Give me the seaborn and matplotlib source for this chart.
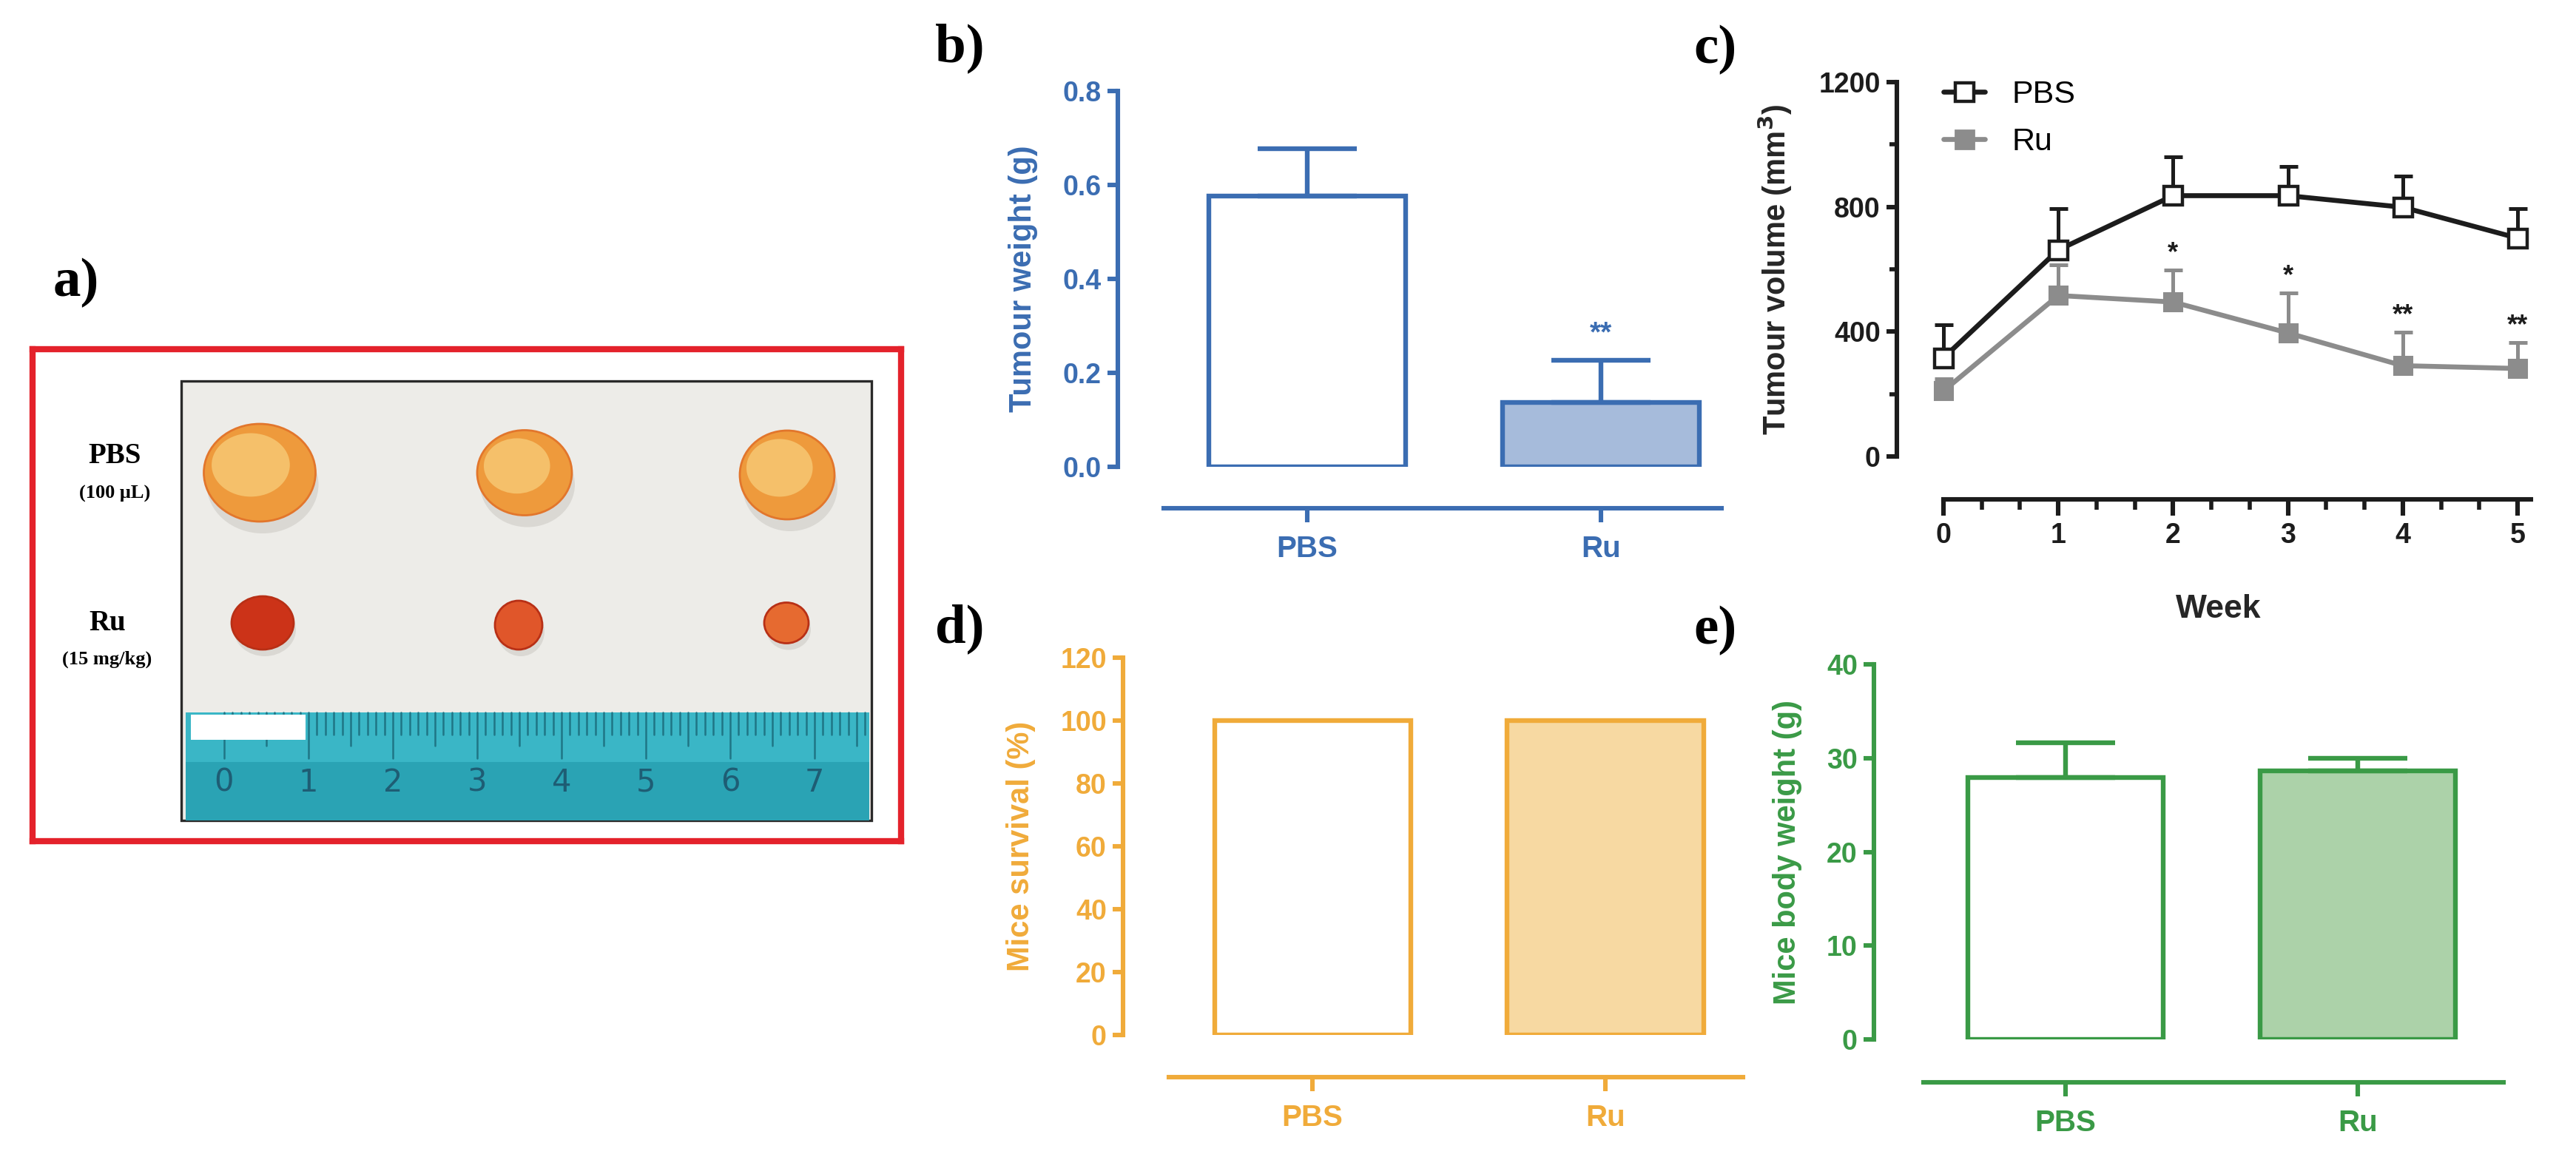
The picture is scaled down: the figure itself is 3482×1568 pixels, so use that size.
import numpy as np
import pandas as pd
import seaborn as sns
import matplotlib.pyplot as plt
from matplotlib.patches import Rectangle, Ellipse
from matplotlib.lines import Line2D

# ---- data ----
groups = ['PBS', 'Ru']

tumour_weight = [0.576, 0.137]
tumour_weight_err = [0.101, 0.090]
weight_sig = ['', '**']

weeks = [0, 1, 2, 3, 4, 5]
pbs_volume = [316, 662, 836, 836, 799, 700]
pbs_volume_err = [105, 133, 124, 93, 99, 95]
ru_volume = [210, 516, 495, 396, 291, 282]
ru_volume_err = [40, 99, 103, 128, 108, 83]
volume_sig = ['', '', '*', '*', '**', '**']

survival = [100, 100]

body_weight = [27.9, 28.6]
body_weight_err = [3.7, 1.4]

W, H = 3482, 1568
DPI = 200

sns.set_style('ticks')
plt.rcParams['font.family'] = ['Liberation Sans', 'DejaVu Sans']
plt.rcParams['font.weight'] = 'bold'
plt.rcParams['text.color'] = 'black'

fig = plt.figure(figsize=(W / DPI, H / DPI), dpi=DPI)


def px_axes(left, top, right, bottom):
    return fig.add_axes([left / W, 1 - bottom / H, (right - left) / W, (bottom - top) / H])


def style_axes(ax, color, ybounds, xbounds, offset):
    for s in ['top', 'right']:
        ax.spines[s].set_visible(False)
    for s in ['left', 'bottom']:
        ax.spines[s].set_color(color)
        ax.spines[s].set_linewidth(2.2)
    ax.spines['left'].set_bounds(*ybounds)
    ax.spines['bottom'].set_bounds(*xbounds)
    ax.spines['bottom'].set_position(('outward', offset))
    ax.tick_params(colors=color, width=2.2, length=5, labelsize=13.5, pad=3)
    ax.tick_params(which='minor', colors=color, width=2.0, length=3.5)
    ax.set_facecolor('none')


def bar_panel(ax, values, errs, color, fill, ymax, ystep, ylabel, xlim, xbounds, offset, sig=None):
    df = pd.DataFrame({'group': groups, 'value': values})
    sns.barplot(data=df, x='group', y='value', hue='group', palette=['white', fill],
                saturation=1, width=0.67, edgecolor=color, linewidth=2.3, legend=False, ax=ax,
                errorbar=None)
    if errs is not None:
        ax.errorbar(range(len(groups)), values, yerr=[np.zeros(len(errs)), errs], fmt='none',
                    ecolor=color, elinewidth=2.3, capsize=24, capthick=2.3, zorder=1)
    if sig is not None:
        for i, s in enumerate(sig):
            if s:
                ax.text(i, values[i] + errs[i] + ymax * 0.035, s, color=color, ha='center',
                        va='bottom', fontsize=14, fontweight='bold')
    ax.set_xlim(*xlim)
    ax.set_ylim(0, ymax)
    ax.set_yticks(np.arange(0, ymax + ystep / 2, ystep))
    ax.set_xlabel('')
    ax.set_ylabel(ylabel, color=color, fontsize=15, fontweight='bold', labelpad=12)
    style_axes(ax, color, (0, ymax), xbounds, offset)
    ax.tick_params(axis='x', length=7, labelsize=14.5, pad=6)


# ---- b) tumour weight ----
ax_b = px_axes(1511, 123, 2343, 631)
bar_panel(ax_b, tumour_weight, tumour_weight_err, '#3b6db2', '#a6bbdb', 0.8, 0.2,
          'Tumour weight (g)', (-0.645, 1.45), (-0.49, 1.41), 20.2, sig=weight_sig)
ax_b.yaxis.set_major_formatter(plt.FormatStrFormatter('%.1f'))

# ---- d) mice survival ----
ax_d = px_axes(1518, 889, 2360, 1399)
bar_panel(ax_d, survival, None, '#f0ab3a', '#f7d9a2', 120, 20,
          'Mice survival (%)', (-0.647, 1.48), (-0.49, 1.47), 20.5)

# ---- e) mice body weight ----
ax_e = px_axes(2533, 898, 3404, 1405)
bar_panel(ax_e, body_weight, body_weight_err, '#3a9a46', '#acd2a9', 40, 10,
          'Mice body weight (g)', (-0.656, 1.55), (-0.486, 1.5), 20.9)

# ---- c) tumour volume ----
ax_c = px_axes(2564, 111, 3434, 617)
pbs_col, ru_col = '#1c1c1c', '#8c8c8c'
ax_c.errorbar(weeks, pbs_volume, yerr=[np.zeros(len(weeks)), pbs_volume_err], fmt='none',
              ecolor=pbs_col, elinewidth=1.8, capsize=4.5, capthick=1.8, zorder=2)
ax_c.errorbar(weeks, ru_volume, yerr=[np.zeros(len(weeks)), ru_volume_err], fmt='none',
              ecolor=ru_col, elinewidth=1.8, capsize=4.5, capthick=1.8, zorder=2)
sns.lineplot(x=weeks, y=ru_volume, color=ru_col, linewidth=2.4, marker='s', markersize=9,
             markerfacecolor=ru_col, markeredgecolor=ru_col, ax=ax_c, zorder=3)
sns.lineplot(x=weeks, y=pbs_volume, color=pbs_col, linewidth=2.4, marker='s', markersize=9,
             markerfacecolor='white', markeredgecolor=pbs_col, markeredgewidth=1.6, ax=ax_c, zorder=4)
for w, v, e, s in zip(weeks, ru_volume, ru_volume_err, volume_sig):
    if s:
        ax_c.text(w, v + e + 12, s, ha='center', va='bottom', fontsize=13, fontweight='bold',
                  color=pbs_col)
ax_c.set_xlim(-0.406, 5.2)
ax_c.set_ylim(0, 1200)
ax_c.set_yticks([0, 400, 800, 1200])
ax_c.set_yticks([200, 600, 1000], minor=True)
ax_c.set_xticks(weeks)
ax_c.set_xticks(np.arange(0, 5.1, 1 / 3), minor=True)
ax_c.set_xlabel('Week', fontsize=16, fontweight='bold', labelpad=22)
ax_c.set_ylabel('Tumour volume (mm$^\\mathbf{3}$)', fontsize=15, fontweight='bold', labelpad=12)
style_axes(ax_c, pbs_col, (0, 1200), (0, 5.115), 20.9)
ax_c.tick_params(axis='x', which='major', length=8)
ax_c.tick_params(axis='x', which='minor', length=5)
handles = [
    Line2D([], [], color=pbs_col, lw=2.4, marker='s', ms=9, mfc='white', mec=pbs_col, mew=1.6),
    Line2D([], [], color=ru_col, lw=2.4, marker='s', ms=9, mfc=ru_col, mec=ru_col),
]
leg = ax_c.legend(handles, groups, loc='upper left', bbox_to_anchor=(0.072, 1.005), frameon=False,
                  handlelength=1.3, handletextpad=0.85, labelspacing=0.55, borderaxespad=0,
                  borderpad=0,
                  prop={'family': 'Liberation Sans', 'weight': 'normal', 'size': 15.5})

# ---- a) photograph (schematic) ----
ax_a = px_axes(44, 472, 1218, 1137)
ax_a.set_xlim(44, 1218)
ax_a.set_ylim(1137, 472)
ax_a.set_xticks([])
ax_a.set_yticks([])
for s in ax_a.spines.values():
    s.set_color('#e4222b')
    s.set_linewidth(3.0)
ax_a.add_patch(Rectangle((245, 515), 933, 594, facecolor='#edece8', edgecolor='#2a2a2a', lw=1.2))
pbs_tumours = [(351, 639, 151, 132), (709, 639, 128, 115), (1064, 642, 128, 120)]
ru_tumours = [(355, 842, 84, 72, '#cc3318'), (701, 845, 64, 66, '#e0562a'), (1063, 842, 60, 55, '#e66a30')]
for x, y, w, h in pbs_tumours:
    ax_a.add_patch(Ellipse((x + 4, y + 16), w, h, facecolor='#dad8d3', edgecolor='none'))
    ax_a.add_patch(Ellipse((x, y), w, h, facecolor='#ee9a3c', edgecolor='#e2762c', lw=1))
    ax_a.add_patch(Ellipse((x - w * 0.08, y - h * 0.08), w * 0.7, h * 0.65, facecolor='#f5c06a', edgecolor='none'))
for x, y, w, h, c in ru_tumours:
    ax_a.add_patch(Ellipse((x + 3, y + 9), w, h, facecolor='#dad8d3', edgecolor='none'))
    ax_a.add_patch(Ellipse((x, y), w, h, facecolor=c, edgecolor='#b83016', lw=1))
ax_a.add_patch(Rectangle((251, 963), 924, 146, facecolor='#3ab6c6', edgecolor='none'))
ax_a.add_patch(Rectangle((251, 1030), 924, 79, facecolor='#2aa3b4', edgecolor='none'))
for i in range(0, 80):
    xm = 303 + i * 11.4
    if xm > 1172:
        break
    ln = 62 if i % 10 == 0 else (45 if i % 5 == 0 else 30)
    ax_a.plot([xm, xm], [963, 963 + ln], color='#1f7686', lw=0.9)
ax_a.add_patch(Rectangle((258, 966), 155, 34, facecolor='white', edgecolor='none', zorder=5))
for i in range(8):
    ax_a.text(303 + i * 114, 1058, str(i), ha='center', va='center', fontsize=15,
              color='#1e5d74', fontweight='normal', family='DejaVu Sans')
serif = ['Liberation Serif', 'DejaVu Serif']
ax_a.text(155, 616, 'PBS', ha='center', va='center', fontsize=14, family=serif, fontweight='bold')
ax_a.text(155, 667, '(100 μL)', ha='center', va='center', fontsize=9.5, family=serif, fontweight='bold')
ax_a.text(145, 842, 'Ru', ha='center', va='center', fontsize=14, family=serif, fontweight='bold')
ax_a.text(145, 891, '(15 mg/kg)', ha='center', va='center', fontsize=9.5, family=serif, fontweight='bold')

# ---- panel letters ----
for lab, x, y in [('a)', 103, 382), ('b)', 1297, 65), ('c)', 2318, 67),
                  ('d)', 1297, 850), ('e)', 2318, 852)]:
    fig.text(x / W, 1 - y / H, lab, ha='center', va='center', fontsize=27,
             family=serif, fontweight='bold', color='black')

fig.savefig('out.png', dpi=DPI, facecolor='white')
